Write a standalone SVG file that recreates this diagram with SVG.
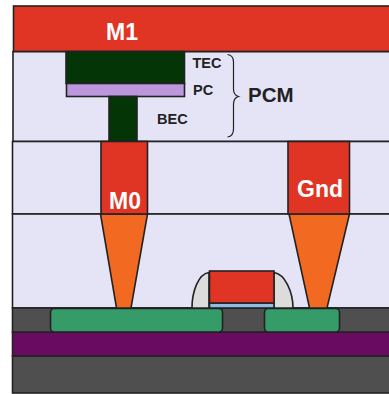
<svg xmlns="http://www.w3.org/2000/svg" width="389" height="394" viewBox="0 0 389 394">
<style>
.s{stroke:#222;stroke-width:1.6}
.t{font-family:"Liberation Sans",Arial,sans-serif;font-weight:bold}
.w{fill:#fff;font-size:23px}
.k{fill:#222;font-size:14.500px}
</style>
<rect width="389" height="394" fill="#fff"/>
<g id="dielectric"><rect class="s" x="13" y="51.500" width="380" height="90" fill="#e5e4f6"/><rect class="s" x="12.500" y="141.500" width="380" height="72.500" fill="#e5e4f6"/><rect class="s" x="12.500" y="214" width="380" height="94" fill="#e5e4f6"/></g>
<g id="m1"><rect class="s" x="13.500" y="6" width="380" height="45.500" fill="#e03424"/><text class="t w" x="122" y="40" text-anchor="middle">M1</text></g>
<g id="tec"><rect class="s" x="66" y="51.500" width="118.500" height="32" fill="#033507"/><text class="t k" x="192.500" y="68">TEC</text></g>
<g id="pc"><rect class="s" x="66.500" y="83.500" width="118" height="13" fill="#bd97dc"/><text class="t k" x="193" y="95">PC</text></g>
<g id="bec"><rect class="s" x="109" y="96.500" width="28" height="45" fill="#033507"/><text class="t k" x="157" y="124">BEC</text></g>
<g id="brace"><path d="M227.500 54.500C232 55 233.500 58 233.500 62V89C233.500 93 235 95.500 238.500 96.500C235 97.500 233.500 100 233.500 104V129C233.500 133 232 136.500 227.500 137" fill="none" stroke="#222" stroke-width="1.200"/><text class="t" x="248" y="102" font-size="20.500" fill="#222">PCM</text></g>
<g id="substrate"><rect class="s" x="12.500" y="356" width="380" height="37" fill="#4f4f4f"/></g>
<g id="oxide"><rect class="s" x="12.500" y="332" width="380" height="24" fill="#680b61"/></g>
<g id="well"><rect class="s" x="12.500" y="308" width="380" height="24" fill="#4f4f4f"/></g>
<g id="source"><rect class="s" x="50.500" y="308.500" width="172" height="23.500" rx="4" fill="#359b69"/></g>
<g id="drain"><rect class="s" x="264.500" y="308.500" width="75" height="23.500" rx="4" fill="#359b69"/></g>
<g id="spacers"><path class="s" d="M192 308C192 292 198 274 209 272.500V308Z" fill="#dcdcdc"/><path class="s" d="M274 272.500C285 274 293 292 293 308H274Z" fill="#dcdcdc"/></g>
<g id="gate"><rect class="s" x="209.500" y="303" width="64.500" height="5" fill="#8fbde3"/><rect class="s" x="209.500" y="271" width="64.500" height="32" fill="#e03424"/></g>
<g id="via-left"><path class="s" d="M100.500 214H147.500L131 308H116.500Z" fill="#f26a21"/></g>
<g id="via-right"><path class="s" d="M289 214H349.500L327 308H309.500Z" fill="#f26a21"/></g>
<g id="m0"><rect class="s" x="101" y="141.500" width="46.500" height="72.500" fill="#e03424"/><text class="t w" x="125" y="208.500" text-anchor="middle">M0</text></g>
<g id="gnd"><rect class="s" x="288" y="141.500" width="61.500" height="72.500" fill="#e03424"/><text class="t w" x="320" y="196.500" text-anchor="middle">Gnd</text></g>
<g id="connectors"/>
</svg>
